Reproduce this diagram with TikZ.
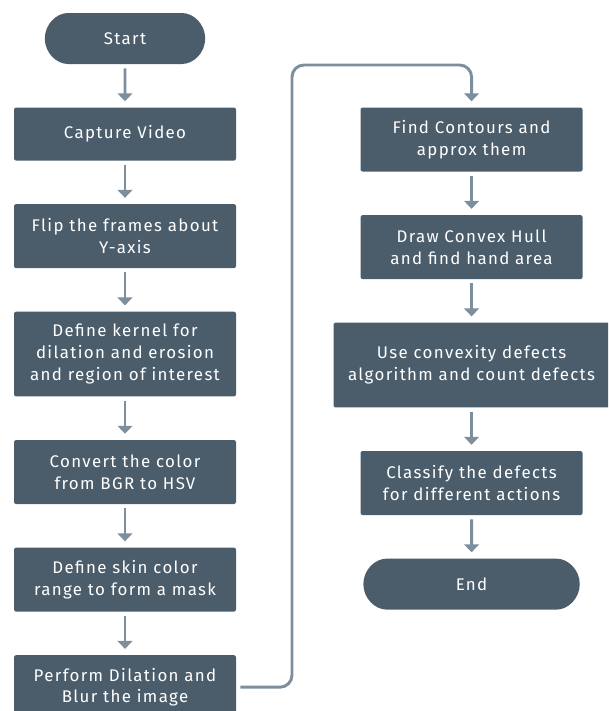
\documentclass[tikz,border=0pt]{standalone}
\usepackage{fontspec}
\setmainfont[LetterSpace=8]{Fira Sans}
\usepackage{tikz}
\usetikzlibrary{arrows.meta, positioning, shapes.misc}
\usepackage{xcolor}

\definecolor{boxfill}{HTML}{4B5D6B}
\definecolor{linegray}{HTML}{7D8E9C}

\begin{document}
\begin{tikzpicture}[ 
node distance=1.075cm, 
box/.style={fill=boxfill, 
rectangle, 
rounded corners=1.5pt, 
text=white, 
font=\fontsize{12}{15.5}\selectfont, 
minimum width=5.55cm, 
minimum height=1.6cm, 
inner sep=2pt, 
align=center}, 
terminal/.style={box, rounded rectangle, minimum height=1.275cm}, 
arrow/.style={-{Triangle[width=10.5pt, length=5.7pt]}, line width=2.1pt, linegray, 
shorten <=0.1cm, shorten >=0.15cm} ]

\clip (0,0) rectangle (15.2,-17.775);

\node[terminal, minimum width=4.15cm] (start) at (3.125,-0.9625) {Start}; 
\node[box, below=of start, minimum height=1.325cm] (capture) {Capture Video}; 
\node[box, below=of capture] (flip) {Flip the frames about\\Y-axis}; 
\node[box, below=of flip, minimum height=2.12cm] (kernel) {Define kernel for\\dilation and erosion\\and region of interest}; 
\node[box, below=of kernel] (convert) {Convert the color\\from BGR to HSV}; 
\node[box, below=of convert] (skin) {Define skin color\\range to form a mask}; 
\node[box, below=of skin] (perform) {Perform Dilation and\\Blur the image};

\node[box, anchor=north west] (contours) at ([xshift=3.1cm]capture.north east) {Find Contours and\\approx them}; 
\node[box, below=of contours] (hull) {Draw Convex Hull\\and find hand area}; 
\node[box, below=of hull, minimum width=6.9cm, minimum height=2.12cm] (defects) {Use convexity defects\\algorithm and count defects}; 
\node[box, below=of defects] (classify) {Classify the defects\\for different actions}; 
\node[terminal, below=of classify] (finish) {End};

\coordinate (route) at (7.3,-1.625);

\draw[arrow] (start) -- (capture); 
\draw[arrow] (capture) -- (flip); 
\draw[arrow] (flip) -- (kernel); 
\draw[arrow] (kernel) -- (convert); 
\draw[arrow] (convert) -- (skin); 
\draw[arrow] (skin) -- (perform); 
\draw[arrow, rounded corners=0.3cm] (perform.east) -| (route) -| (contours.north); 
\draw[arrow] (contours) -- (hull); 
\draw[arrow] (hull) -- (defects); 
\draw[arrow] (defects) -- (classify); 
\draw[arrow] (classify) -- (finish);

\end{tikzpicture}
\end{document}
